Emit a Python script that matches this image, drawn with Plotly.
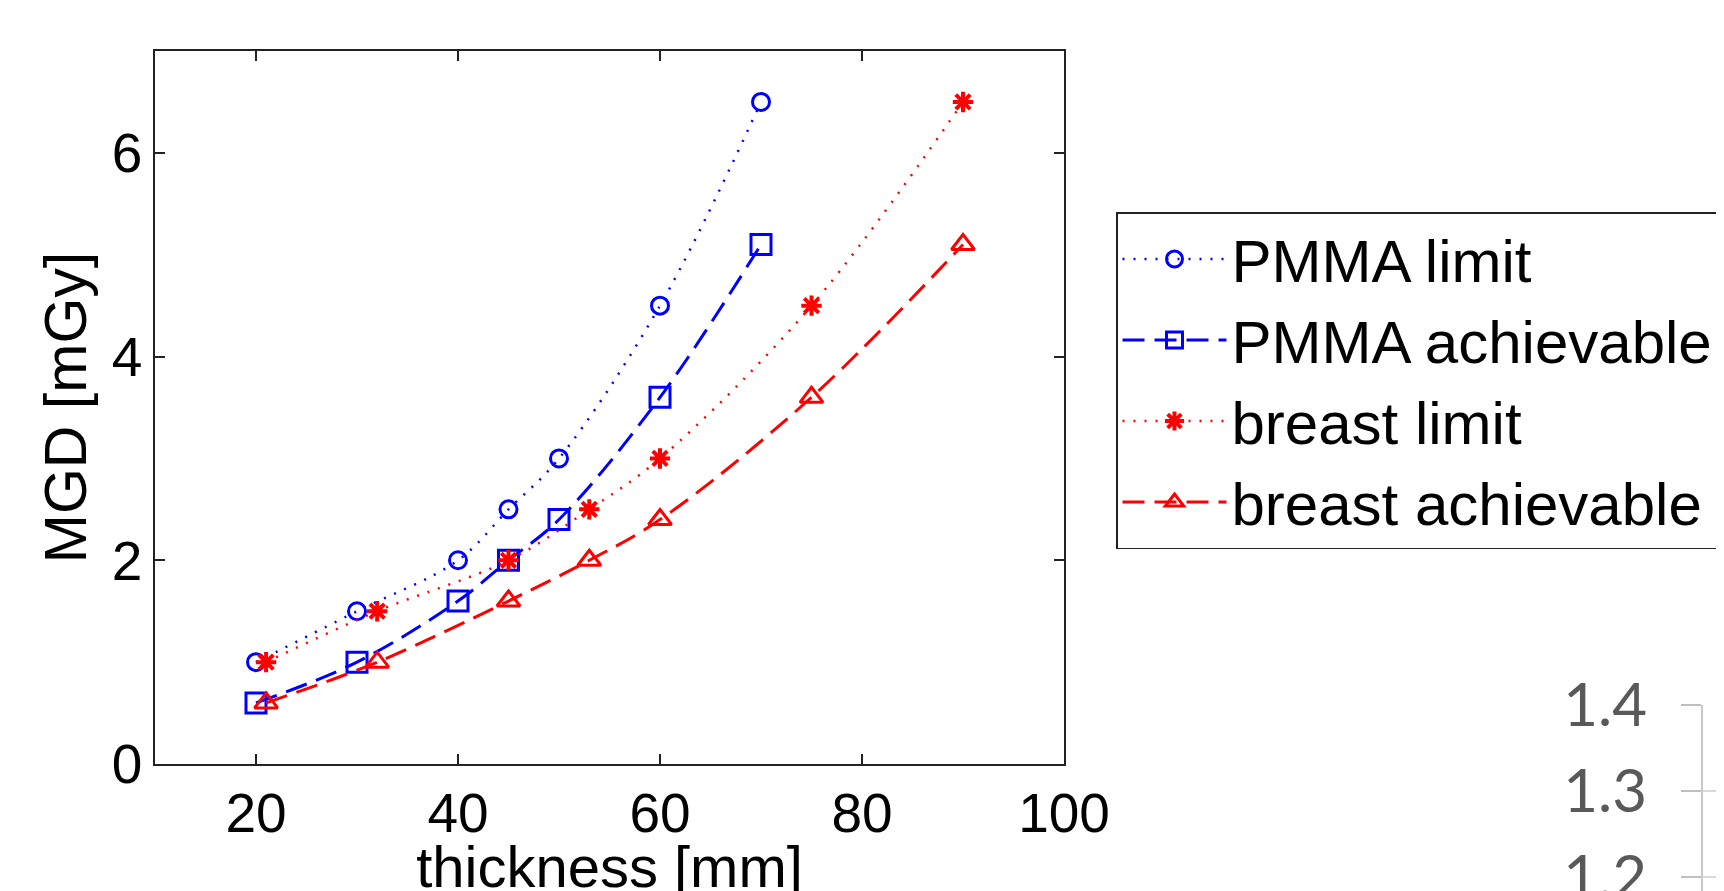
import plotly.graph_objects as go

# ---- data ----
pmma_x = [20, 30, 40, 45, 50, 60, 70]
pmma_limit = [1.0, 1.5, 2.0, 2.5, 3.0, 4.5, 6.5]
pmma_achievable = [0.6, 1.0, 1.6, 2.0, 2.4, 3.6, 5.1]
breast_x = [21, 32, 45, 53, 60, 75, 90]
breast_limit = [1.0, 1.5, 2.0, 2.5, 3.0, 4.5, 6.5]
breast_achievable = [0.6, 1.0, 1.6, 2.0, 2.4, 3.6, 5.1]

x_ticks = [20, 40, 60, 80, 100]
y_ticks = [0, 2, 4, 6]
frag_ticks = [1.2, 1.3, 1.4]
frag_labels = ["1.2", "1.3", "1.4"]

W, H = 1724, 891
OFF = 8  # page body margin compensation
FONT = "Liberation Sans, Arial, Helvetica, sans-serif"
BLUE = "#0000FF"
RED = "#FF0000"
DOT = "2px,9px"
DASH = "22px,10px"

fig = go.Figure()
fig.add_trace(go.Scatter(
    x=pmma_x, y=pmma_limit, name="PMMA limit", mode="lines+markers",
    line=dict(color=BLUE, width=2.5, dash=DOT, shape="spline"),
    marker=dict(symbol="circle-open", size=17, color=BLUE, line=dict(width=3, color=BLUE))))
fig.add_trace(go.Scatter(
    x=pmma_x, y=pmma_achievable, name="PMMA achievable", mode="lines+markers",
    line=dict(color=BLUE, width=3, dash=DASH, shape="spline"),
    marker=dict(symbol="square-open", size=20, color=BLUE, line=dict(width=3, color=BLUE))))
fig.add_trace(go.Scatter(
    x=breast_x, y=breast_limit, name="breast limit", mode="lines+markers",
    line=dict(color=RED, width=2.5, dash=DOT, shape="spline"),
    marker=dict(symbol="asterisk-open", size=17, color=RED, line=dict(width=4, color=RED))))
fig.add_trace(go.Scatter(
    x=breast_x, y=breast_achievable, name="breast achievable", mode="lines+markers",
    line=dict(color=RED, width=3, dash=DASH, shape="spline"),
    marker=dict(symbol="triangle-up-open", size=20, color=RED, line=dict(width=3, color=RED))))

# fragment of a neighbouring chart (bottom-right corner)
fig.add_trace(go.Scatter(x=[0], y=[1.3], xaxis="x2", yaxis="y2", mode="markers",
                         marker=dict(opacity=0), showlegend=False, hoverinfo="skip"))


def px_x(v):
    return (v - OFF) / W


def px_y(v):
    return 1 - (v - OFF) / H


frag_top = 705            # page pixel of the 1.4 gridline
frag_px_per_unit = 860    # pixels per 1.0 of that axis
frag_span = (H + OFF - frag_top) / frag_px_per_unit

fig.update_layout(
    width=W, height=H,
    margin=dict(l=0, r=0, t=0, b=0, autoexpand=False),
    paper_bgcolor="white", plot_bgcolor="white",
    font=dict(family=FONT, color="black"),
    xaxis=dict(
        domain=[px_x(155), px_x(1064)], range=[10, 100], anchor="y",
        tickvals=x_ticks, ticktext=[str(v) for v in x_ticks],
        ticks="inside", ticklen=10, tickwidth=1.5, tickcolor="#222",
        showline=True, linecolor="#222", linewidth=1.5, mirror="ticks",
        showgrid=False, zeroline=False, automargin=False,
        tickfont=dict(size=55, family=FONT, color="black"),
        title=dict(text="thickness [mm]", font=dict(size=58, family=FONT, color="black"), standoff=20),
    ),
    yaxis=dict(
        domain=[px_y(764), px_y(51)], range=[0, 7], anchor="x",
        tickvals=y_ticks, ticktext=[str(v) for v in y_ticks],
        ticks="inside", ticklen=10, tickwidth=1.5, tickcolor="#222",
        showline=True, linecolor="#222", linewidth=1.5, mirror="ticks",
        showgrid=False, zeroline=False, automargin=False,
        tickfont=dict(size=55, family=FONT, color="black"),
        title=dict(text="MGD [mGy]", font=dict(size=59, family=FONT, color="black"), standoff=6),
    ),
    xaxis2=dict(domain=[px_x(1703), 1.0], range=[0, 1], anchor="y2",
                showticklabels=False, showgrid=False, zeroline=False, showline=False, ticks=""),
    yaxis2=dict(domain=[0, px_y(frag_top)], range=[1.4 - frag_span, 1.4], anchor="x2",
                tickvals=frag_ticks, ticktext=frag_labels,
                ticks="outside", ticklen=20, tickcolor="#bfbfbf", tickwidth=1.5,
                showline=True, linecolor="#c8c8c8", linewidth=2,
                showgrid=True, gridcolor="#d9d9d9", gridwidth=1.5, zeroline=False,
                tickfont=dict(size=60, family="Lato, Open Sans, sans-serif", color="#595959"),
                ticklabelstandoff=22, ticklabeloverflow="allow", automargin=False),
    legend=dict(
        x=px_x(1116), y=px_y(212), xanchor="left", yanchor="top",
        bordercolor="#222", borderwidth=1.5, bgcolor="white",
        font=dict(size=60, family=FONT, color="black"),
        itemwidth=104, tracegroupgap=0,
    ),
    showlegend=True,
)

fig.write_html("out.html")
